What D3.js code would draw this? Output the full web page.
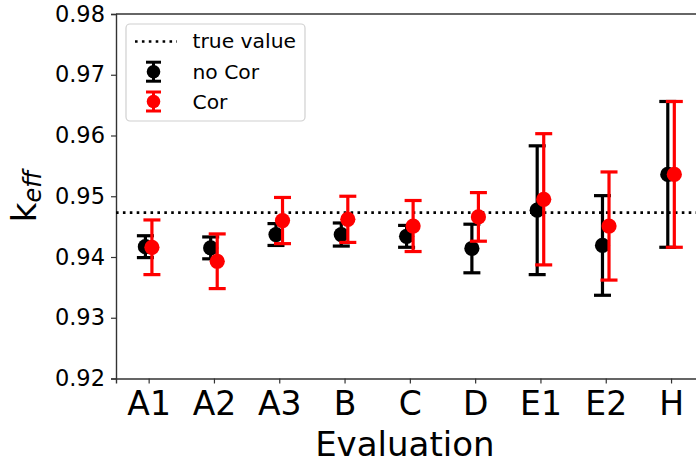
<!DOCTYPE html>
<html>
<head>
<meta charset="utf-8">
<script src="https://cdn.jsdelivr.net/npm/d3@7"></script>
<style>
  html, body { margin: 0; padding: 0; background: #fff; }
  text { font-family: "DejaVu Sans", sans-serif; }
</style>
</head>
<body>
<svg id="chart" width="696" height="464"></svg>
<script>
const categories = ["A1", "A2", "A3", "B", "C", "D", "E1", "E2", "H"];
const noCorValues = [0.9417, 0.9415, 0.9437, 0.9437, 0.9434, 0.9414, 0.9477, 0.9419, 0.9536];
const noCorErrors = [0.0018, 0.0018, 0.0018, 0.0019, 0.0018, 0.0040, 0.0106, 0.0082, 0.0120];
const corValues = [0.9416, 0.9393, 0.9460, 0.9462, 0.9451, 0.9466, 0.9495, 0.9451, 0.9536];
const corErrors = [0.0045, 0.0045, 0.0038, 0.0038, 0.0042, 0.0040, 0.0108, 0.0089, 0.0120];
const trueValue = 0.9473;
const yTicks = [0.92, 0.93, 0.94, 0.95, 0.96, 0.97, 0.98];

const svg = d3.select("#chart");
const mLeft = 116, mTop = 14, mBottom = 378.5, mRight = 703.7;

const x = d3.scaleLinear().domain([-0.5, 8.5]).range([mLeft, mRight]);
const y = d3.scaleLinear().domain([0.92, 0.98]).range([mBottom, mTop]);

// axes
const yAxis = d3.axisLeft(y).tickValues(yTicks).tickFormat(d3.format(".2f")).tickSize(5).tickPadding(6);
const gy = svg.append("g").attr("transform", `translate(${mLeft},0)`).call(yAxis);
gy.selectAll("text").style("font-size", "22.5px").attr("fill", "#000");

const xAxis = d3.axisBottom(x).tickValues(d3.range(categories.length)).tickFormat(i => categories[i]).tickSize(5).tickPadding(8);
const gx = svg.append("g").attr("transform", `translate(0,${mBottom})`).call(xAxis);
gx.selectAll("text").style("font-size", "33px").attr("fill", "#000");

[gx, gy].forEach(g => {
  g.select(".domain").attr("stroke", "#333").attr("stroke-width", 1.4);
  g.selectAll(".tick line").attr("stroke", "#333").attr("stroke-width", 1.2);
});
// top / right spines
svg.append("line").attr("x1", mLeft).attr("x2", mRight).attr("y1", mTop).attr("y2", mTop)
  .attr("stroke", "#333").attr("stroke-width", 1.6);
svg.append("line").attr("x1", mRight).attr("x2", mRight).attr("y1", mTop).attr("y2", mBottom)
  .attr("stroke", "#333").attr("stroke-width", 1.6);

// true value line
svg.append("line").attr("x1", mLeft).attr("x2", mRight).attr("y1", y(trueValue)).attr("y2", y(trueValue))
  .attr("stroke", "#000").attr("stroke-width", 2.6).attr("stroke-dasharray", "2.6,4.3");

// series
function drawSeries(values, errors, color, offset) {
  const g = svg.append("g");
  values.forEach((v, i) => {
    const cx = x(i + offset);
    const e = errors[i];
    g.append("line").attr("x1", cx).attr("x2", cx).attr("y1", y(v + e)).attr("y2", y(v - e))
      .attr("stroke", color).attr("stroke-width", 3.2);
    [v + e, v - e].forEach(c => {
      g.append("line").attr("x1", cx - 8.5).attr("x2", cx + 8.5).attr("y1", y(c)).attr("y2", y(c))
        .attr("stroke", color).attr("stroke-width", 3.2);
    });
    g.append("circle").attr("cx", cx).attr("cy", y(v)).attr("r", 7.6).attr("fill", color);
  });
}
drawSeries(noCorValues, noCorErrors, "#000", -0.05);
drawSeries(corValues, corErrors, "#ff0000", 0.05);

// axis labels
svg.append("text").attr("x", (mLeft + mRight) / 2 - 5).attr("y", 456).attr("text-anchor", "middle")
  .style("font-size", "34px").attr("fill", "#000").text("Evaluation");

const yl = svg.append("text").attr("transform", `translate(36,${(mTop + mBottom) / 2}) rotate(-90)`)
  .attr("text-anchor", "middle").attr("fill", "#000");
yl.append("tspan").style("font-size", "34px").text("k");
yl.append("tspan").style("font-size", "24px").style("font-style", "italic").attr("dy", 5).text("eff");

// legend
const lg = svg.append("g");
lg.append("rect").attr("x", 126).attr("y", 24).attr("width", 179).attr("height", 97).attr("rx", 4)
  .attr("fill", "#fff").attr("fill-opacity", 0.8).attr("stroke", "#d0d0d0").attr("stroke-width", 1.2);
lg.append("line").attr("x1", 135).attr("x2", 177).attr("y1", 41.5).attr("y2", 41.5)
  .attr("stroke", "#000").attr("stroke-width", 2.6).attr("stroke-dasharray", "2.6,4.3");
lg.append("text").attr("x", 192.5).attr("y", 48).style("font-size", "20.3px").attr("fill", "#000").text("true value");
const legendItems = [["no Cor", "#000", 71.7], ["Cor", "#ff0000", 101.5]];
legendItems.forEach(([label, color, cy]) => {
  const cx = 153.5;
  lg.append("line").attr("x1", cx).attr("x2", cx).attr("y1", cy - 9.5).attr("y2", cy + 9.5)
    .attr("stroke", color).attr("stroke-width", 3);
  [cy - 9.5, cy + 9.5].forEach(c => lg.append("line").attr("x1", cx - 7.5).attr("x2", cx + 7.5)
    .attr("y1", c).attr("y2", c).attr("stroke", color).attr("stroke-width", 3));
  lg.append("circle").attr("cx", cx).attr("cy", cy).attr("r", 6.8).attr("fill", color);
  lg.append("text").attr("x", 192.5).attr("y", cy + 7).style("font-size", "20.3px").attr("fill", "#000").text(label);
});
</script>
</body>
</html>
